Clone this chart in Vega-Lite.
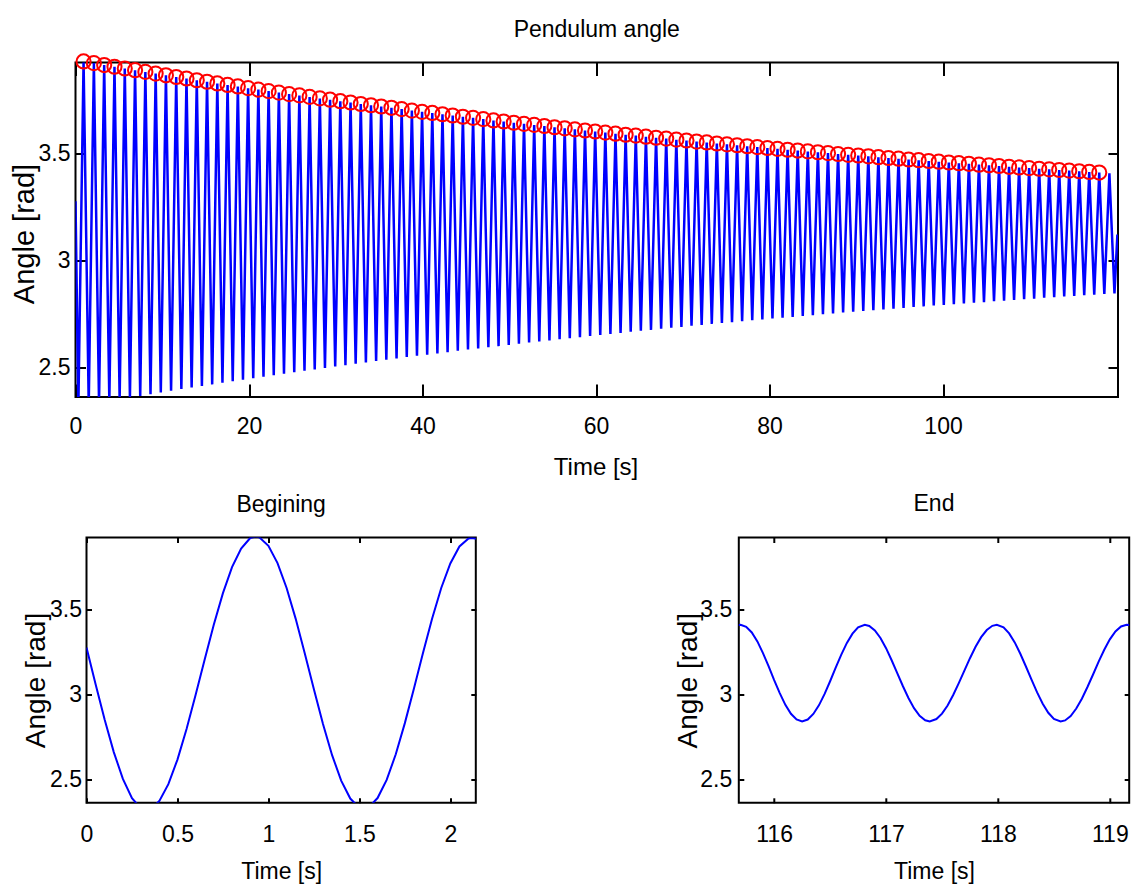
{
  "$schema": "https://vega.github.io/schema/vega-lite/v6.json",
  "autosize": {"type": "none"},
  "padding": {"left": 75.5, "top": 62.5, "right": 1055.5, "bottom": 824.5},
  "background": "white",
  "config": {
    "font": "Liberation Sans",
    "view": {"stroke": "#000000", "strokeWidth": 2},
    "axis": {"labelFont": "Liberation Sans", "titleFont": "Liberation Sans", "labelColor": "#000000", "titleColor": "#000000", "titleFontWeight": "normal", "tickColor": "#000000", "tickWidth": 2, "domain": false, "grid": false, "labelFlush": false, "labelOverlap": false, "labelBound": false},
    "title": {"font": "Liberation Sans", "fontWeight": "normal", "color": "#000000", "fontSize": 23}
  },
  "datasets": {
    "top": [
      {"t":0,"a":3.276,"p":0},{"t":0.33,"a":2.315,"p":0},{"t":0.93,"a":3.93,"p":1},{"t":1.524,"a":2.324,"p":0},{"t":2.118,"a":3.922,"p":1},{"t":2.712,"a":2.333,"p":0},{"t":3.306,"a":3.913,"p":1},{"t":3.9,"a":2.341,"p":0},{"t":4.493,"a":3.905,"p":1},{"t":5.087,"a":2.349,"p":0},{"t":5.68,"a":3.897,"p":1},{"t":6.273,"a":2.357,"p":0},{"t":6.866,"a":3.889,"p":1},{"t":7.46,"a":2.365,"p":0},{"t":8.053,"a":3.881,"p":1},{"t":8.646,"a":2.373,"p":0},{"t":9.239,"a":3.873,"p":1},{"t":9.832,"a":2.381,"p":0},{"t":10.424,"a":3.865,"p":1},{"t":11.017,"a":2.389,"p":0},{"t":11.61,"a":3.857,"p":1},{"t":12.202,"a":2.397,"p":0},{"t":12.794,"a":3.85,"p":1},{"t":13.387,"a":2.404,"p":0},{"t":13.979,"a":3.842,"p":1},{"t":14.571,"a":2.412,"p":0},{"t":15.163,"a":3.835,"p":1},{"t":15.755,"a":2.419,"p":0},{"t":16.347,"a":3.827,"p":1},{"t":16.939,"a":2.427,"p":0},{"t":17.53,"a":3.82,"p":1},{"t":18.122,"a":2.434,"p":0},{"t":18.713,"a":3.813,"p":1},{"t":19.305,"a":2.441,"p":0},{"t":19.896,"a":3.805,"p":1},{"t":20.488,"a":2.448,"p":0},{"t":21.079,"a":3.798,"p":1},{"t":21.67,"a":2.455,"p":0},{"t":22.261,"a":3.791,"p":1},{"t":22.852,"a":2.462,"p":0},{"t":23.442,"a":3.784,"p":1},{"t":24.033,"a":2.469,"p":0},{"t":24.624,"a":3.777,"p":1},{"t":25.215,"a":2.476,"p":0},{"t":25.805,"a":3.771,"p":1},{"t":26.396,"a":2.483,"p":0},{"t":26.986,"a":3.764,"p":1},{"t":27.576,"a":2.489,"p":0},{"t":28.166,"a":3.757,"p":1},{"t":28.756,"a":2.496,"p":0},{"t":29.346,"a":3.751,"p":1},{"t":29.936,"a":2.503,"p":0},{"t":30.526,"a":3.744,"p":1},{"t":31.116,"a":2.509,"p":0},{"t":31.705,"a":3.738,"p":1},{"t":32.295,"a":2.516,"p":0},{"t":32.884,"a":3.731,"p":1},{"t":33.473,"a":2.522,"p":0},{"t":34.062,"a":3.725,"p":1},{"t":34.652,"a":2.528,"p":0},{"t":35.241,"a":3.719,"p":1},{"t":35.83,"a":2.534,"p":0},{"t":36.419,"a":3.713,"p":1},{"t":37.008,"a":2.54,"p":0},{"t":37.596,"a":3.707,"p":1},{"t":38.185,"a":2.547,"p":0},{"t":38.773,"a":3.7,"p":1},{"t":39.362,"a":2.553,"p":0},{"t":39.95,"a":3.694,"p":1},{"t":40.539,"a":2.558,"p":0},{"t":41.127,"a":3.689,"p":1},{"t":41.715,"a":2.564,"p":0},{"t":42.303,"a":3.683,"p":1},{"t":42.891,"a":2.57,"p":0},{"t":43.479,"a":3.677,"p":1},{"t":44.067,"a":2.576,"p":0},{"t":44.654,"a":3.671,"p":1},{"t":45.242,"a":2.582,"p":0},{"t":45.829,"a":3.666,"p":1},{"t":46.417,"a":2.587,"p":0},{"t":47.004,"a":3.66,"p":1},{"t":47.592,"a":2.593,"p":0},{"t":48.179,"a":3.654,"p":1},{"t":48.766,"a":2.598,"p":0},{"t":49.353,"a":3.649,"p":1},{"t":49.94,"a":2.604,"p":0},{"t":50.526,"a":3.643,"p":1},{"t":51.113,"a":2.609,"p":0},{"t":51.7,"a":3.638,"p":1},{"t":52.287,"a":2.615,"p":0},{"t":52.873,"a":3.633,"p":1},{"t":53.459,"a":2.62,"p":0},{"t":54.045,"a":3.628,"p":1},{"t":54.632,"a":2.625,"p":0},{"t":55.218,"a":3.622,"p":1},{"t":55.804,"a":2.63,"p":0},{"t":56.39,"a":3.617,"p":1},{"t":56.976,"a":2.635,"p":0},{"t":57.561,"a":3.612,"p":1},{"t":58.147,"a":2.64,"p":0},{"t":58.733,"a":3.607,"p":1},{"t":59.319,"a":2.645,"p":0},{"t":59.904,"a":3.602,"p":1},{"t":60.489,"a":2.65,"p":0},{"t":61.074,"a":3.597,"p":1},{"t":61.66,"a":2.655,"p":0},{"t":62.245,"a":3.592,"p":1},{"t":62.83,"a":2.66,"p":0},{"t":63.414,"a":3.587,"p":1},{"t":63.999,"a":2.665,"p":0},{"t":64.584,"a":3.583,"p":1},{"t":65.169,"a":2.67,"p":0},{"t":65.753,"a":3.578,"p":1},{"t":66.338,"a":2.674,"p":0},{"t":66.922,"a":3.573,"p":1},{"t":67.507,"a":2.679,"p":0},{"t":68.091,"a":3.569,"p":1},{"t":68.675,"a":2.684,"p":0},{"t":69.259,"a":3.564,"p":1},{"t":69.843,"a":2.688,"p":0},{"t":70.427,"a":3.56,"p":1},{"t":71.011,"a":2.693,"p":0},{"t":71.594,"a":3.555,"p":1},{"t":72.178,"a":2.697,"p":0},{"t":72.761,"a":3.551,"p":1},{"t":73.345,"a":2.702,"p":0},{"t":73.928,"a":3.546,"p":1},{"t":74.511,"a":2.706,"p":0},{"t":75.094,"a":3.542,"p":1},{"t":75.677,"a":2.71,"p":0},{"t":76.26,"a":3.538,"p":1},{"t":76.843,"a":2.714,"p":0},{"t":77.426,"a":3.533,"p":1},{"t":78.009,"a":2.719,"p":0},{"t":78.591,"a":3.529,"p":1},{"t":79.174,"a":2.723,"p":0},{"t":79.757,"a":3.525,"p":1},{"t":80.339,"a":2.727,"p":0},{"t":80.921,"a":3.521,"p":1},{"t":81.504,"a":2.731,"p":0},{"t":82.086,"a":3.517,"p":1},{"t":82.668,"a":2.735,"p":0},{"t":83.25,"a":3.513,"p":1},{"t":83.832,"a":2.739,"p":0},{"t":84.413,"a":3.509,"p":1},{"t":84.995,"a":2.743,"p":0},{"t":85.576,"a":3.505,"p":1},{"t":86.158,"a":2.747,"p":0},{"t":86.739,"a":3.501,"p":1},{"t":87.321,"a":2.751,"p":0},{"t":87.902,"a":3.497,"p":1},{"t":88.483,"a":2.755,"p":0},{"t":89.064,"a":3.493,"p":1},{"t":89.645,"a":2.759,"p":0},{"t":90.226,"a":3.49,"p":1},{"t":90.807,"a":2.762,"p":0},{"t":91.388,"a":3.486,"p":1},{"t":91.969,"a":2.766,"p":0},{"t":92.549,"a":3.482,"p":1},{"t":93.13,"a":2.77,"p":0},{"t":93.71,"a":3.478,"p":1},{"t":94.29,"a":2.773,"p":0},{"t":94.87,"a":3.475,"p":1},{"t":95.45,"a":2.777,"p":0},{"t":96.03,"a":3.471,"p":1},{"t":96.61,"a":2.781,"p":0},{"t":97.19,"a":3.468,"p":1},{"t":97.77,"a":2.784,"p":0},{"t":98.35,"a":3.464,"p":1},{"t":98.93,"a":2.788,"p":0},{"t":99.509,"a":3.461,"p":1},{"t":100.089,"a":2.791,"p":0},{"t":100.668,"a":3.457,"p":1},{"t":101.247,"a":2.794,"p":0},{"t":101.826,"a":3.454,"p":1},{"t":102.405,"a":2.798,"p":0},{"t":102.984,"a":3.451,"p":1},{"t":103.563,"a":2.801,"p":0},{"t":104.142,"a":3.447,"p":1},{"t":104.721,"a":2.804,"p":0},{"t":105.299,"a":3.444,"p":1},{"t":105.878,"a":2.808,"p":0},{"t":106.456,"a":3.441,"p":1},{"t":107.035,"a":2.811,"p":0},{"t":107.613,"a":3.437,"p":1},{"t":108.191,"a":2.814,"p":0},{"t":108.769,"a":3.434,"p":1},{"t":109.347,"a":2.817,"p":0},{"t":109.925,"a":3.431,"p":1},{"t":110.503,"a":2.82,"p":0},{"t":111.081,"a":3.428,"p":1},{"t":111.659,"a":2.824,"p":0},{"t":112.236,"a":3.425,"p":1},{"t":112.814,"a":2.827,"p":0},{"t":113.391,"a":3.422,"p":1},{"t":113.969,"a":2.83,"p":0},{"t":114.546,"a":3.419,"p":1},{"t":115.123,"a":2.833,"p":0},{"t":115.7,"a":3.416,"p":1},{"t":116.277,"a":2.836,"p":0},{"t":116.854,"a":3.413,"p":1},{"t":117.431,"a":2.839,"p":0},{"t":118.007,"a":3.41,"p":1},{"t":118.593,"a":2.842,"p":0},{"t":119.178,"a":3.407,"p":0},{"t":119.763,"a":2.845,"p":0},{"t":120.1,"a":3.12,"p":0}
    ],
    "bl": [
      {"t":0,"a":3.276},{"t":0.05,"a":3.06},{"t":0.1,"a":2.85},{"t":0.15,"a":2.659},{"t":0.2,"a":2.501},{"t":0.25,"a":2.387},{"t":0.3,"a":2.326},{"t":0.33,"a":2.315},{"t":0.35,"a":2.32},{"t":0.4,"a":2.37},{"t":0.45,"a":2.47},{"t":0.5,"a":2.615},{"t":0.55,"a":2.795},{"t":0.6,"a":2.997},{"t":0.65,"a":3.207},{"t":0.7,"a":3.412},{"t":0.75,"a":3.597},{"t":0.8,"a":3.75},{"t":0.85,"a":3.86},{"t":0.9,"a":3.922},{"t":0.93,"a":3.93},{"t":0.95,"a":3.926},{"t":1.0,"a":3.876},{"t":1.05,"a":3.774},{"t":1.1,"a":3.627},{"t":1.15,"a":3.445},{"t":1.2,"a":3.241},{"t":1.25,"a":3.03},{"t":1.3,"a":2.825},{"t":1.35,"a":2.641},{"t":1.4,"a":2.491},{"t":1.45,"a":2.385},{"t":1.5,"a":2.33},{"t":1.524,"a":2.324},{"t":1.55,"a":2.332},{"t":1.6,"a":2.388},{"t":1.65,"a":2.495},{"t":1.7,"a":2.646},{"t":1.75,"a":2.83},{"t":1.8,"a":3.034},{"t":1.85,"a":3.245},{"t":1.9,"a":3.447},{"t":1.95,"a":3.627},{"t":2.0,"a":3.772},{"t":2.05,"a":3.872},{"t":2.1,"a":3.919},{"t":2.118,"a":3.922},{"t":2.15,"a":3.917}
    ],
    "br": [
      {"t":115.65,"a":3.405},{"t":115.7,"a":3.41},{"t":115.75,"a":3.398},{"t":115.8,"a":3.365},{"t":115.85,"a":3.312},{"t":115.9,"a":3.243},{"t":115.95,"a":3.166},{"t":116.0,"a":3.084},{"t":116.05,"a":3.007},{"t":116.1,"a":2.938},{"t":116.15,"a":2.885},{"t":116.2,"a":2.852},{"t":116.25,"a":2.84},{"t":116.3,"a":2.851},{"t":116.35,"a":2.884},{"t":116.4,"a":2.935},{"t":116.45,"a":3.001},{"t":116.5,"a":3.077},{"t":116.55,"a":3.157},{"t":116.6,"a":3.234},{"t":116.65,"a":3.303},{"t":116.7,"a":3.358},{"t":116.75,"a":3.395},{"t":116.81,"a":3.41},{"t":116.85,"a":3.403},{"t":116.9,"a":3.377},{"t":116.95,"a":3.332},{"t":117.0,"a":3.272},{"t":117.05,"a":3.201},{"t":117.1,"a":3.125},{"t":117.15,"a":3.049},{"t":117.2,"a":2.978},{"t":117.25,"a":2.918},{"t":117.3,"a":2.873},{"t":117.35,"a":2.847},{"t":117.39,"a":2.84},{"t":117.45,"a":2.854},{"t":117.5,"a":2.886},{"t":117.55,"a":2.934},{"t":117.6,"a":2.996},{"t":117.65,"a":3.066},{"t":117.7,"a":3.14},{"t":117.75,"a":3.213},{"t":117.8,"a":3.28},{"t":117.85,"a":3.337},{"t":117.9,"a":3.379},{"t":117.95,"a":3.404},{"t":117.99,"a":3.41},{"t":118.05,"a":3.395},{"t":118.1,"a":3.359},{"t":118.15,"a":3.306},{"t":118.2,"a":3.239},{"t":118.25,"a":3.164},{"t":118.3,"a":3.086},{"t":118.35,"a":3.011},{"t":118.4,"a":2.944},{"t":118.45,"a":2.891},{"t":118.5,"a":2.855},{"t":118.56,"a":2.84},{"t":118.6,"a":2.846},{"t":118.65,"a":2.872},{"t":118.7,"a":2.916},{"t":118.75,"a":2.974},{"t":118.8,"a":3.043},{"t":118.85,"a":3.117},{"t":118.9,"a":3.193},{"t":118.95,"a":3.263},{"t":119.0,"a":3.324},{"t":119.05,"a":3.371},{"t":119.1,"a":3.4},{"t":119.15,"a":3.41},{"t":119.2,"a":3.408}
    ]
  },
  "bounds": "flush",
  "spacing": 140,
  "vconcat": [
    {
      "width": 1042.5,
      "height": 334.5,
      "title": {"text": "Pendulum angle", "fontSize": 23, "baseline": "alphabetic", "offset": -10},
      "data": {"name": "top"},
      "resolve": {"axis": {"x": "independent", "y": "independent"}},
      "layer": [
        {
          "mark": {"type": "line", "color": "#0000ff", "strokeWidth": 2.5, "clip": true},
          "encoding": {
            "x": {"field": "t", "type": "quantitative", "scale": {"domain": [0, 120.17], "nice": false, "zero": false},
              "axis": {"values": [0, 20, 40, 60, 80, 100], "format": "~r", "tickSize": -13, "labelPadding": 49, "labelBaseline": "alphabetic", "labelFontSize": 23, "title": "Time [s]", "titleFontSize": 24, "titleBaseline": "alphabetic", "titleY": 77, "titleX": 520}},
            "y": {"field": "a", "type": "quantitative", "scale": {"domain": [2.36, 3.925], "nice": false, "zero": false},
              "axis": {"values": [2.5, 3, 3.5], "format": "~r", "tickSize": -10, "labelPadding": 15.5, "labelFontSize": 23, "title": "Angle [rad]", "titleFontSize": 29, "titleBaseline": "alphabetic", "titleAngle": -90, "titleX": -42.5, "titleY": 171}}
          }
        },
        {
          "transform": [{"filter": "datum.p == 1"}],
          "mark": {"type": "point", "shape": "circle", "filled": false, "color": "#ff0000", "size": 200, "strokeWidth": 2, "opacity": 1},
          "encoding": {
            "x": {"field": "t", "type": "quantitative", "axis": {"orient": "top", "values": [0, 20, 40, 60, 80, 100], "labels": false, "tickSize": -13, "title": null}},
            "y": {"field": "a", "type": "quantitative", "axis": {"orient": "right", "values": [2.5, 3, 3.5], "labels": false, "tickSize": -10, "title": null}}
          }
        }
      ]
    },
    {
      "bounds": "flush",
      "spacing": 0,
      "hconcat": [
        {
          "width": 10.2,
          "height": 265.3,
          "view": {"stroke": null},
          "data": {"values": [{"t": 0}]},
          "mark": {"type": "point", "opacity": 0}
        },
        {
          "bounds": "flush",
          "spacing": 262.3,
          "hconcat": [
            {
              "width": 389.3,
              "height": 265.3,
              "title": {"text": "Begining", "fontSize": 23, "baseline": "alphabetic", "offset": 2},
              "data": {"name": "bl"},
              "resolve": {"axis": {"x": "independent", "y": "independent"}},
              "layer": [
                {
                  "mark": {"type": "line", "color": "#0000ff", "strokeWidth": 2, "clip": true},
                  "encoding": {
                    "x": {"field": "t", "type": "quantitative", "scale": {"domain": [0, 2.14], "nice": false, "zero": false},
                      "axis": {"values": [0, 0.5, 1, 1.5, 2], "format": "~r", "tickSize": -5, "labelPadding": 43.5, "labelBaseline": "alphabetic", "labelFontSize": 23, "title": "Time [s]", "titleFontSize": 23, "titleBaseline": "alphabetic", "titleY": 75.7}},
                    "y": {"field": "a", "type": "quantitative", "scale": {"domain": [2.36, 3.925], "nice": false, "zero": false},
                      "axis": {"values": [2.5, 3, 3.5], "format": "~r", "tickSize": -5, "labelPadding": 10, "labelFontSize": 23, "title": "Angle [rad]", "titleFontSize": 28, "titleBaseline": "alphabetic", "titleAngle": -90, "titleX": -42.4, "titleY": 142.5}}
                  }
                },
                {
                  "mark": {"type": "line", "strokeOpacity": 0},
                  "encoding": {
                    "x": {"field": "t", "type": "quantitative", "axis": {"orient": "top", "values": [0, 0.5, 1, 1.5, 2], "labels": false, "tickSize": -5, "title": null}},
                    "y": {"field": "a", "type": "quantitative", "axis": {"orient": "right", "values": [2.5, 3, 3.5], "labels": false, "tickSize": -5, "title": null}}
                  }
                }
              ]
            },
            {
              "width": 390.4,
              "height": 265.3,
              "title": {"text": "End", "fontSize": 23, "baseline": "alphabetic", "offset": 3},
              "data": {"name": "br"},
              "resolve": {"axis": {"x": "independent", "y": "independent"}},
              "layer": [
                {
                  "mark": {"type": "line", "color": "#0000ff", "strokeWidth": 2, "clip": true},
                  "encoding": {
                    "x": {"field": "t", "type": "quantitative", "scale": {"domain": [115.684, 119.173], "nice": false, "zero": false},
                      "axis": {"values": [116, 117, 118, 119], "format": "~r", "tickSize": -5, "labelPadding": 43.5, "labelBaseline": "alphabetic", "labelFontSize": 23, "title": "Time [s]", "titleFontSize": 23, "titleBaseline": "alphabetic", "titleY": 75.7}},
                    "y": {"field": "a", "type": "quantitative", "scale": {"domain": [2.36, 3.925], "nice": false, "zero": false},
                      "axis": {"values": [2.5, 3, 3.5], "format": "~r", "tickSize": -5, "labelPadding": 12, "labelFontSize": 23, "title": "Angle [rad]", "titleFontSize": 28, "titleBaseline": "alphabetic", "titleAngle": -90, "titleX": -42.3, "titleY": 142.7}}
                  }
                },
                {
                  "mark": {"type": "line", "strokeOpacity": 0},
                  "encoding": {
                    "x": {"field": "t", "type": "quantitative", "axis": {"orient": "top", "values": [116, 117, 118, 119], "labels": false, "tickSize": -5, "title": null}},
                    "y": {"field": "a", "type": "quantitative", "axis": {"orient": "right", "values": [2.5, 3, 3.5], "labels": false, "tickSize": -5, "title": null}}
                  }
                }
              ]
            }
          ]
        }
      ]
    }
  ]
}
